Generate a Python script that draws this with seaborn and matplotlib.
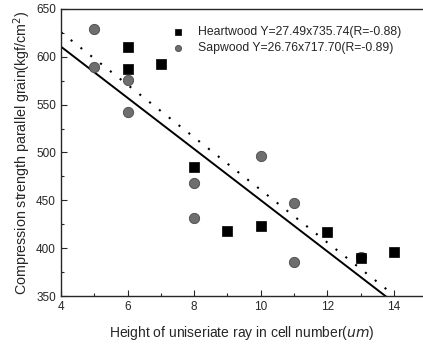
import numpy as np
import pandas as pd
import matplotlib
matplotlib.use("Agg")
import matplotlib.pyplot as plt
from matplotlib.ticker import MultipleLocator
import seaborn as sns

# data
heart_x = [6, 6, 7, 8, 9, 10, 12, 13, 14]
heart_y = [610, 587, 592, 485, 418, 423, 417, 390, 396]
sap_x = [5, 5, 6, 6, 8, 8, 10, 11, 11, 13]
sap_y = [629, 589, 576, 542, 468, 432, 496, 447, 386, 391]

# fitted lines (Y = a*x + b)
heart_fit = (-27.49, 735.74)
sap_fit = (-26.76, 717.70)
heart_fit_x = [4, 13.8]
sap_fit_x = [4, 14]

heart_label = "Heartwood Y=27.49x735.74(R=-0.88)"
sap_label = "Sapwood Y=26.76x717.70(R=-0.89)"

sns.set_style("ticks")
plt.rcParams['font.family'] = ['Liberation Sans', 'DejaVu Sans']

fig, ax = plt.subplots(figsize=(4.23, 3.45), dpi=100)
fig.subplots_adjust(left=0.144, right=1.0, top=0.974, bottom=0.142)

heart = pd.DataFrame({"x": heart_x, "y": heart_y})
sap = pd.DataFrame({"x": sap_x, "y": sap_y})

sns.scatterplot(data=sap, x="x", y="y", ax=ax, marker="o", s=55, color="#6e6e6e",
                edgecolor="#4a4a4a", linewidth=0.6, label=sap_label, zorder=3)
sns.scatterplot(data=heart, x="x", y="y", ax=ax, marker="s", s=60, color="black",
                edgecolor="black", linewidth=0.5, label=heart_label, zorder=4)

hx = np.array(heart_fit_x)
sx = np.array(sap_fit_x)
sns.lineplot(x=hx, y=heart_fit[0] * hx + heart_fit[1], ax=ax, color="black",
             linestyle=(0, (1, 5)), linewidth=1.5, legend=False, zorder=2)
sns.lineplot(x=sx, y=sap_fit[0] * sx + sap_fit[1], ax=ax, color="black",
             linewidth=1.4, legend=False, zorder=2)

ax.set_xlim(4, 14.87)
ax.set_ylim(350, 650)
ax.xaxis.set_major_locator(MultipleLocator(2))
ax.xaxis.set_minor_locator(MultipleLocator(1))
ax.yaxis.set_major_locator(MultipleLocator(50))
ax.yaxis.set_minor_locator(MultipleLocator(25))
ax.tick_params(which="both", direction="in", labelsize=8.5, width=0.8)
ax.tick_params(which="major", length=4)
ax.tick_params(which="minor", length=2)
for s in ["left", "bottom", "top"]:
    ax.spines[s].set_linewidth(1.0)
ax.spines["right"].set_visible(False)

ax.set_xlabel("Height of uniseriate ray in cell number($\\mathit{um}$)", fontsize=10, labelpad=8)
ax.set_ylabel("Compression strength parallel grain(kgf/cm$^2$)", fontsize=10.3, labelpad=2)

handles, labels = ax.get_legend_handles_labels()
order = [1, 0]
leg = ax.legend([handles[i] for i in order], [labels[i] for i in order],
                loc="upper right", bbox_to_anchor=(0.97, 0.98), frameon=False,
                fontsize=8.8, markerscale=0.6, handletextpad=0.6, labelspacing=0.35)

fig.savefig("out.png", dpi=100)
